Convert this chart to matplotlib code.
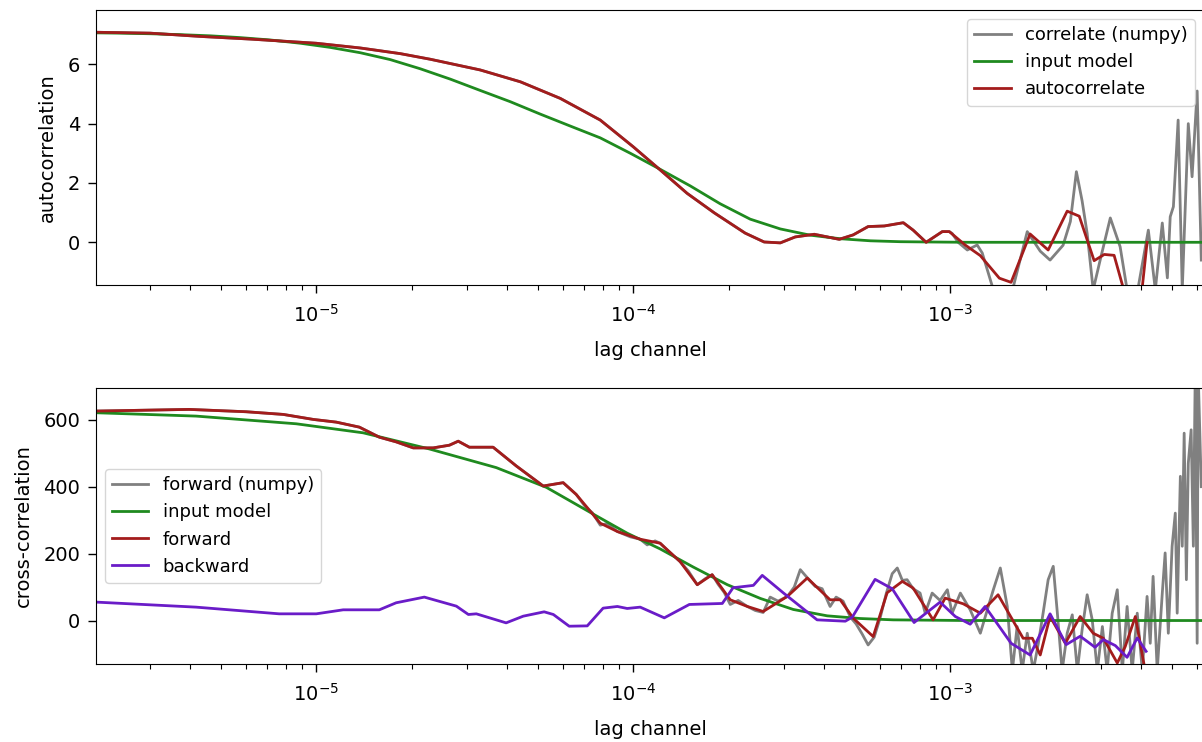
import numpy as np
import matplotlib.pyplot as plt

# lag positions are kept as log10(lag channel)

# ---- autocorrelation panel ----
model_auto_log = [-5.694, -5.618, -5.524, -5.429, -5.334, -5.240, -5.145, -5.050, -4.956, -4.861,
                  -4.767, -4.672, -4.577, -4.483, -4.388, -4.293, -4.199, -4.104, -4.009, -3.915,
                  -3.820, -3.726, -3.631, -3.536, -3.442, -3.347, -3.252, -3.158, -3.063, -2.950, -2.150]
model_auto = [7.06, 7.05, 7.03, 7.00, 6.96, 6.90, 6.82, 6.71, 6.57, 6.39,
              6.16, 5.85, 5.50, 5.12, 4.74, 4.32, 3.92, 3.52, 3.00, 2.46,
              1.90, 1.30, 0.78, 0.45, 0.24, 0.12, 0.05, 0.02, 0.01, 0.0, 0.0]

auto_log = [-5.694, -5.524, -5.366, -5.208, -5.000, -4.861, -4.735, -4.640, -4.483, -4.356,
            -4.230, -4.104, -4.000, -3.915, -3.830, -3.744, -3.647, -3.587, -3.536, -3.489,
            -3.429, -3.350, -3.306, -3.259, -3.208, -3.148, -3.117, -3.076, -3.025, -3.003,
            -2.953, -2.905, -2.845, -2.808, -2.748, -2.691, -2.631, -2.593, -2.546, -2.514,
            -2.483, -2.429, -2.404, -2.379]
auto_val = [7.08, 7.05, 6.94, 6.85, 6.71, 6.55, 6.36, 6.17, 5.81, 5.41,
            4.85, 4.12, 3.22, 2.44, 1.65, 0.99, 0.31, 0.01, -0.02, 0.18,
            0.27, 0.10, 0.25, 0.53, 0.55, 0.66, 0.41, 0.00, 0.36, 0.36,
            -0.09, -0.45, -1.21, -1.35, 0.28, -0.26, 1.05, 0.88, -0.62, -0.41,
            -0.44, -2.50, -2.50, 0.00]

# numpy correlate follows autocorrelate up to ~1e-3, then gets noisy
corr_tail_log = [-2.994, -2.975, -2.946, -2.915, -2.899, -2.864, -2.833, -2.801, -2.757, -2.716,
                 -2.685, -2.644, -2.621, -2.602, -2.584, -2.568, -2.549, -2.527, -2.495, -2.464,
                 -2.442, -2.410, -2.375, -2.353, -2.331, -2.315, -2.306, -2.296, -2.281, -2.268,
                 -2.249, -2.237, -2.221, -2.208]
corr_tail_val = [0.30, 0.00, -0.26, -0.09, -0.36, -1.6, -1.7, -1.5, 0.36, -0.30,
                 -0.60, -0.10, 0.70, 2.38, 1.40, 0.30, -1.6, -0.60, 0.82, -0.15,
                 -1.6, -1.7, 0.41, -1.6, 0.65, -1.2, 0.86, 1.20, 4.12, -1.6,
                 4.0, 2.21, 5.1, -0.6]

# ---- cross-correlation panel ----
model_cross_log = [-5.694, -5.379, -5.063, -4.852, -4.644, -4.432, -4.274, -4.126, -4.019, -3.915,
                   -3.811, -3.703, -3.599, -3.495, -3.388, -3.284, -3.180, -3.063, -2.950, -2.150]
model_cross = [621, 611, 588, 561, 513, 457, 398, 318, 261, 214,
               160, 107, 66, 33, 14, 6, 2, 1, 0, 0]

fwd_log = [-5.694, -5.401, -5.221, -5.104, -5.009, -4.937, -4.864, -4.801, -4.748, -4.694,
           -4.631, -4.580, -4.552, -4.517, -4.442, -4.369, -4.284, -4.221, -4.180, -4.104,
           -4.050, -3.978, -3.915, -3.852, -3.798, -3.751, -3.694, -3.640, -3.590, -3.514,
           -3.451, -3.379, -3.347, -3.306, -3.243, -3.199, -3.151, -3.117, -3.054, -3.016,
           -2.959, -2.905, -2.849, -2.770, -2.741, -2.716, -2.685, -2.637, -2.590, -2.549,
           -2.517, -2.473, -2.448, -2.416, -2.385]
fwd_val = [626, 631, 624, 616, 601, 593, 578, 548, 534, 516,
           516, 524, 536, 518, 518, 462, 402, 412, 377, 291,
           266, 243, 231, 176, 107, 137, 62, 42, 27, 72,
           127, 62, 62, 7, -48, 83, 117, 97, 2, 67,
           50, 22, 77, -53, -53, -103, 12, -68, 12, -38,
           -53, -127, -78, 12, -150]

bwd_log = [-5.694, -5.379, -5.117, -5.000, -4.915, -4.801, -4.748, -4.659, -4.558, -4.520,
           -4.495, -4.401, -4.347, -4.281, -4.252, -4.202, -4.145, -4.095, -4.050, -4.019,
           -3.978, -3.902, -3.823, -3.719, -3.685, -3.621, -3.593, -3.527, -3.420, -3.331,
           -3.309, -3.237, -3.183, -3.114, -3.032, -2.984, -2.937, -2.890, -2.808, -2.748,
           -2.685, -2.634, -2.590, -2.543, -2.517, -2.479, -2.442, -2.410, -2.382]
bwd_val = [55, 40, 20, 20, 32, 32, 53, 70, 43, 18,
           20, -7, 13, 26, 18, -17, -16, 37, 42, 36,
           40, 8, 48, 51, 98, 105, 135, 83, 2, -2,
           10, 123, 95, -6, 55, 12, -11, 42, -68, -103,
           20, -72, -47, -80, -57, -75, -110, -52, -92]

# numpy forward correlation: same as forward at short lags, noisy afterwards
np_tail_log = [-4.151, -4.129, -4.104, -4.082, -4.050, -4.009, -3.978, -3.956, -3.931, -3.915,
               -3.890, -3.852, -3.826, -3.798, -3.773, -3.751, -3.732, -3.713, -3.694, -3.669,
               -3.640, -3.615, -3.590, -3.568, -3.543, -3.514, -3.492, -3.473, -3.451, -3.426,
               -3.404, -3.379, -3.360, -3.338, -3.315, -3.297, -3.278, -3.259, -3.240, -3.221,
               -3.202, -3.183, -3.167, -3.151, -3.136, -3.117, -3.095, -3.079, -3.057, -3.032,
               -3.009, -2.994, -2.968, -2.937, -2.905, -2.883, -2.864, -2.842, -2.820, -2.804,
               -2.789, -2.773, -2.757, -2.738, -2.722, -2.707, -2.691, -2.675, -2.662, -2.647,
               -2.631, -2.615, -2.599, -2.584, -2.568, -2.552, -2.536, -2.520, -2.505, -2.489,
               -2.473, -2.457, -2.442, -2.426, -2.410, -2.394, -2.379, -2.369, -2.360, -2.347,
               -2.331, -2.322, -2.312, -2.300, -2.290, -2.284, -2.274, -2.268, -2.262, -2.255,
               -2.249, -2.240, -2.233, -2.227, -2.221, -2.218, -2.208]
np_tail_val = [340, 322, 285, 290, 266, 250, 243, 226, 238, 231,
               208, 176, 148, 107, 125, 137, 108, 84, 48, 60,
               42, 30, 24, 70, 58, 72, 100, 152, 128, 102,
               95, 42, 70, 58, 10, -10, -40, -73, -50, 8,
               80, 140, 157, 120, 122, 95, 82, 22, 82, 60,
               92, 22, 82, 32, -38, 32, 92, 157, 42, -150,
               -18, -150, -38, -150, -68, 22, 122, 162, 22, -150,
               -38, 17, -150, -28, 77, 2, -150, -18, -150, 22,
               92, -150, 42, -150, 22, -150, 72, -68, 132, -150,
               82, 202, -38, 222, 321, 22, 431, 222, 560, 122,
               470, 570, 222, 750, -68, 750, 400]


def lag(logs):
    return 10.0 ** np.array(logs)


corr_log = auto_log[:30] + corr_tail_log
corr_val = auto_val[:30] + corr_tail_val
np_log = fwd_log[:19] + np_tail_log
np_val = fwd_val[:19] + np_tail_val

plt.rcParams['font.size'] = 14

fig = plt.figure(figsize=(12.02, 7.42), dpi=100)
ax1 = fig.add_axes([0.0799, 0.6159, 0.9218, 0.3706])
ax2 = fig.add_axes([0.0799, 0.1051, 0.9218, 0.3720])

red = '#a31c1c'
green = '#1f8a1f'
purple = '#6a1cc8'

ax1.plot(lag(corr_log), corr_val, color='gray', lw=2, label='correlate (numpy)')
ax1.plot(lag(model_auto_log), model_auto, color=green, lw=2, label='input model')
ax1.plot(lag(auto_log), auto_val, color=red, lw=2, label='autocorrelate')
ax1.set_ylim(-1.44, 7.83)
ax1.set_ylabel('autocorrelation', labelpad=7.5)
ax1.legend(loc='upper right', fontsize=13)

ax2.plot(lag(np_log), np_val, color='gray', lw=2, label='forward (numpy)')
ax2.plot(lag(model_cross_log), model_cross, color=green, lw=2, label='input model')
ax2.plot(lag(fwd_log), fwd_val, color=red, lw=2, label='forward')
ax2.plot(lag(bwd_log), bwd_val, color=purple, lw=2, label='backward')
ax2.set_ylim(-130, 695)
ax2.set_ylabel('cross-correlation', labelpad=7.5)
ax2.legend(loc='center left', fontsize=13)

for ax in (ax1, ax2):
    ax.set_xscale('log')
    ax.set_xlim(2.02e-6, 6.32e-3)
    ax.set_xlabel('lag channel', labelpad=11)
    ax.tick_params(which='major', length=5.5, width=1)
    ax.tick_params(which='minor', length=3.5, width=0.8)
    ax.tick_params(axis='x', which='major', pad=8)
    ax.tick_params(axis='y', which='major', pad=6)

fig.savefig('out.png', dpi=100)
